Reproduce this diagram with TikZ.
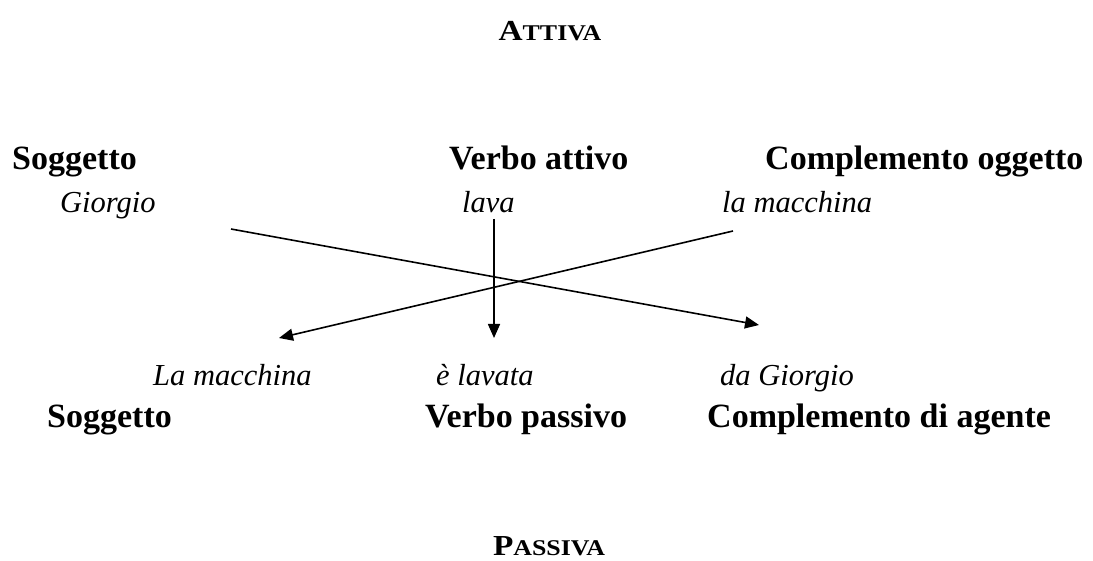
\documentclass[tikz,border=0pt]{standalone}
\usepackage{fontspec}
\usepackage{graphicx}
\setmainfont{Liberation Serif}
\usetikzlibrary{arrows.meta}
\tikzset{
  x=1pt, y=-1pt,
  boldlab/.style={anchor=base west, inner sep=0pt, font=\fontsize{34}{40}\selectfont\bfseries},
  itlab/.style={anchor=base west, inner sep=0pt, font=\fontsize{30.5}{36}\selectfont\itshape},
  title/.style={anchor=base, inner sep=0pt, font=\bfseries},
  conn/.style={line width=1.6pt, -{Triangle[length=14pt,width=12pt]}}
}
\newcommand{\fakesc}[2]{\scalebox{1.15}[1]{{\fontsize{29}{34}\selectfont #1}{\fontsize{22.5}{27}\selectfont #2}}}
\begin{document}
\begin{tikzpicture}
\useasboundingbox (0,0) rectangle (1093,561);
\node[title] (attiva) at (550,41) {\fakesc{A}{TTIVA}};
\node[boldlab] (sogg1) at (12,170) {Soggetto};
\node[boldlab] (verbo1) at (449,170) {Verbo attivo};
\node[boldlab] (compl1) at (765,170) {Complemento oggetto};
\node[itlab] (giorgio1) at (60,213) {Giorgio};
\node[itlab] (lava) at (462,213) {lava};
\node[itlab] (macch1) at (722,213) {la macchina};
\node[itlab] (macch2) at (153,385) {La macchina};
\node[itlab] (lavata) at (436,385) {è lavata};
\node[itlab] (giorgio2) at (720,385) {da Giorgio};
\node[boldlab] (sogg2) at (47,428) {Soggetto};
\node[boldlab] (verbo2) at (425,428) {Verbo passivo};
\node[boldlab] (compl2) at (707,428) {Complemento di agente};
\node[title] (passiva) at (549,555) {\fakesc{P}{ASSIVA}};
\coordinate (aS) at (231,229);
\coordinate (aE) at (759,325);
\coordinate (vS) at (494,219);
\coordinate (vE) at (494,338);
\coordinate (bS) at (733,231);
\coordinate (bE) at (279,338);
\draw[conn] (aS) -- (aE);
\draw[conn] (vS) -- (vE);
\draw[conn] (bS) -- (bE);
\end{tikzpicture}
\end{document}
